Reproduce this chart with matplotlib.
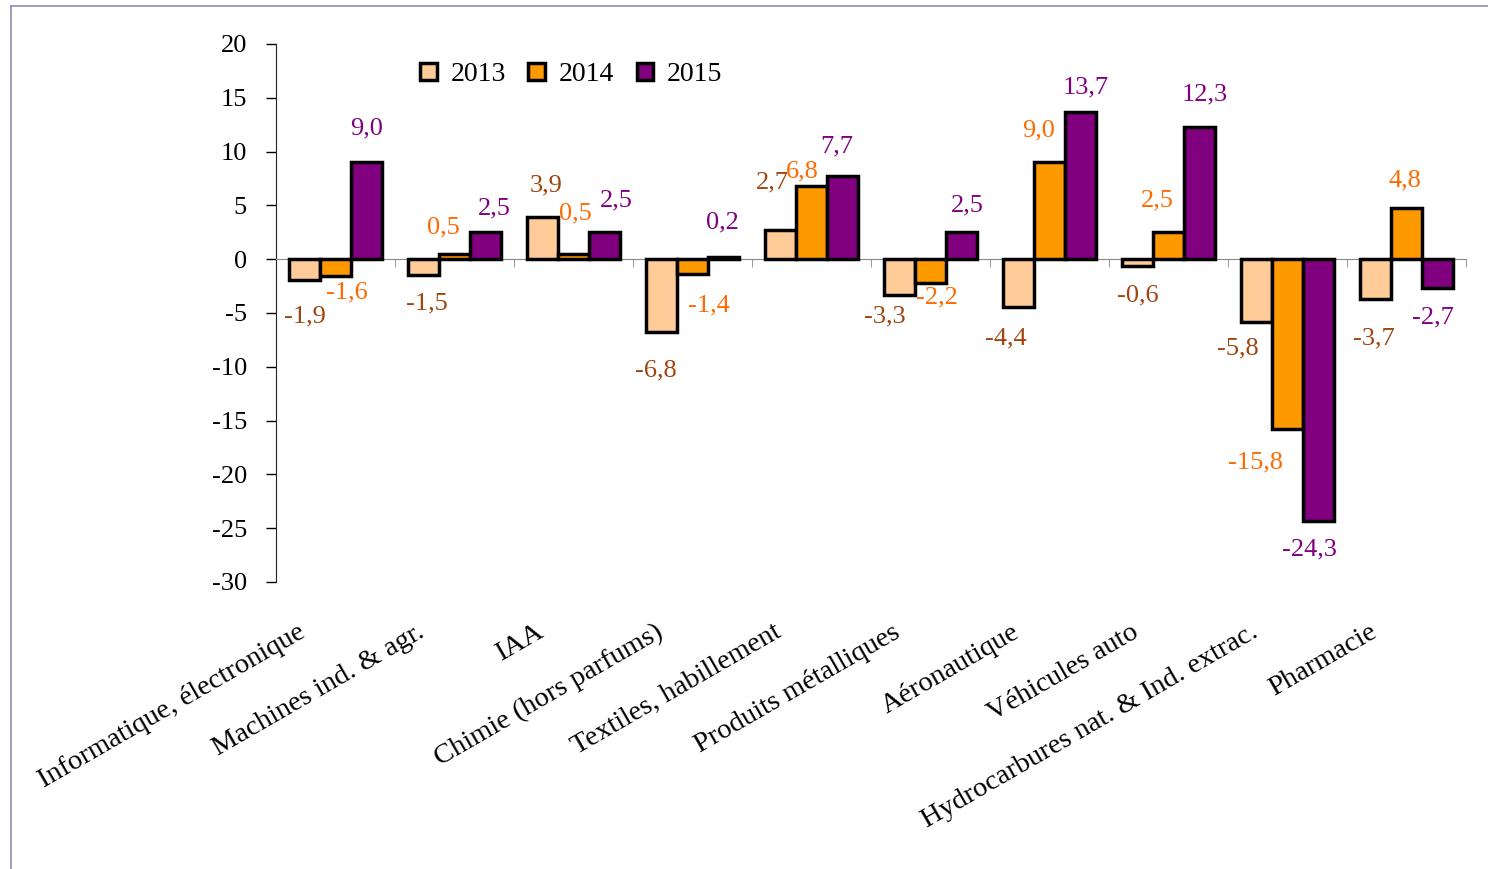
import matplotlib.pyplot as plt
from matplotlib.lines import Line2D
import numpy as np

plt.rcParams['font.family'] = ['Liberation Serif', 'DejaVu Serif']
plt.rcParams['axes.unicode_minus'] = False

categories = ["Informatique, électronique", "Machines ind. & agr.", "IAA",
              "Chimie (hors parfums)", "Textiles, habillement", "Produits métalliques",
              "Aéronautique", "Véhicules auto", "Hydrocarbures nat. & Ind. extrac.",
              "Pharmacie"]
years = ["2013", "2014", "2015"]
v2013 = [-1.9, -1.5, 3.9, -6.8, 2.7, -3.3, -4.4, -0.6, -5.8, -3.7]
v2014 = [-1.6, 0.5, 0.5, -1.4, 6.8, -2.2, 9.0, 2.5, -15.8, 4.8]
v2015 = [9.0, 2.5, 2.5, 0.2, 7.7, 2.5, 13.7, 12.3, -24.3, -2.7]

bar_colors = ["#ffcc99", "#ff9900", "#800080"]
label_colors = ["#a0450f", "#ff6a00", "#800080"]

# label nudges in pixels (dx, dy) from the bar end, per series
nudge2013 = [(0, -37), (3, -28), (4, 32), (-6, -38), (-8, 48), (-15, -22), (-13, -32), (0, -30), (-19, -27), (-2, -39)]
nudge2014 = [(11, -16), (-11, 26), (2, 40), (16, -31), (-9, 15), (6, -15), (-11, 32), (-11, 32), (-32, -33), (-2, 27)]
nudge2015 = [(0, 34), (9, 24), (12, 32), (-1, 35), (-6, 30), (6, 27), (5, 24), (5, 32), (-9, -29), (-4, -29)]

fig = plt.figure(figsize=(14.88, 8.69), dpi=100)
ax = fig.add_axes([0.1855, 0.3303, 0.7997, 0.6191])

x = np.arange(len(categories))
w = 0.26
series = [v2013, v2014, v2015]
nudges = [nudge2013, nudge2014, nudge2015]
for i, vals in enumerate(series):
    xs = x + (i - 1) * w
    ax.bar(xs, vals, w, color=bar_colors[i], edgecolor="black", linewidth=2.5,
           label=years[i], zorder=3)
    for xi, v, (dx, dy) in zip(xs, vals, nudges[i]):
        ax.annotate(f"{v:.1f}".replace(".", ","), (xi, v), xytext=(dx, dy),
                    textcoords="offset pixels", ha="center", va="center",
                    color=label_colors[i], fontsize=19)

ax.set_xlim(-0.5, len(categories) - 0.5)
ax.set_ylim(-30, 20)
ax.set_yticks(range(-30, 21, 5))
ax.tick_params(axis="y", labelsize=19, length=7, width=1, pad=14)

ax.spines["top"].set_visible(False)
ax.spines["right"].set_visible(False)
ax.spines["bottom"].set_position(("data", 0))
ax.spines["bottom"].set_color("#888888")
ax.spines["left"].set_color("#222222")
ax.set_xticks(x)
ax.set_xticklabels([])
ax.tick_params(axis="x", which="major", length=0)
ax.set_xticks(np.arange(-0.5, len(categories), 1), minor=True)
ax.tick_params(axis="x", which="minor", length=6, color="#888888", direction="out")

for xi, cat in zip(x, categories):
    ax.text(xi - 0.32, -0.07, cat, transform=ax.get_xaxis_transform(),
            rotation=30, rotation_mode="anchor", ha="right", va="top", fontsize=20.5)

fig.legend(loc="center", bbox_to_anchor=(0.384, 0.914), ncol=3, frameon=False,
           fontsize=20, handlelength=0.6, handleheight=0.6, handletextpad=0.5,
           columnspacing=0.8)

# frame of the chart area
fig.add_artist(Line2D([11 / 1488, 11 / 1488], [0, 1 - 6 / 869], color="#8c8cb4", linewidth=1.2))
fig.add_artist(Line2D([11 / 1488, 1], [1 - 6 / 869, 1 - 6 / 869], color="#8c8cb4", linewidth=1.2))

fig.savefig("out.png", dpi=100)
